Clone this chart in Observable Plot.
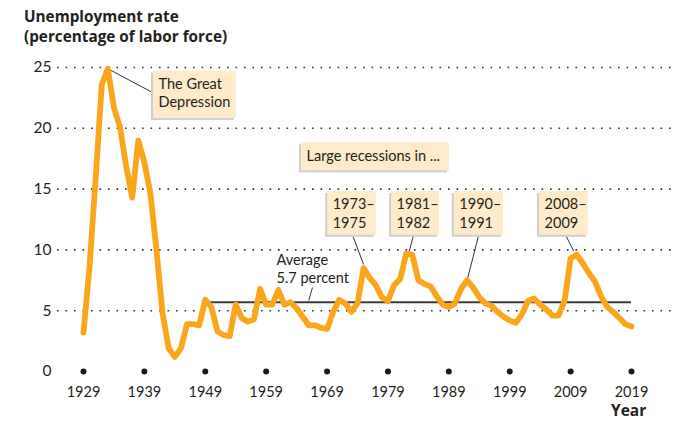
<!DOCTYPE html>
<html>
<head>
<meta charset="utf-8">
<script src="https://cdn.jsdelivr.net/npm/d3@7"></script>
<script src="https://cdn.jsdelivr.net/npm/@observablehq/plot@0.6"></script>
<style>
  body { margin: 0; background: #fff; }
  #chart { position: relative; width: 682px; height: 435px; font-family: Lato, "Open Sans", sans-serif; color: #231f20; }
  #chart svg { position: absolute; left: 0; top: 0; }
  .title { position: absolute; left: 24px; top: 6px; font-family: "Open Sans", sans-serif; font-weight: 700; font-size: 15.3px; line-height: 20px; white-space: nowrap; }
  .xlabel { position: absolute; left: 611px; top: 403px; font-family: "Open Sans", sans-serif; font-weight: 700; font-size: 15.5px; line-height: 15px; }
</style>
</head>
<body>
<div id="chart">
  <div class="title">Unemployment rate<br>(percentage of labor force)</div>
  <div class="xlabel">Year</div>
</div>
<script>
// Annual US unemployment rate, percent of labor force, 1929–2019
const firstYear = 1929;
const rates = [
  3.2, 8.7, 15.9, 23.6, 24.9, 21.7, 20.1, 16.9, 14.3, 19.0,   // 1929–1938
  17.2, 14.6, 9.9, 4.7, 1.9, 1.2, 1.9, 3.9, 3.9, 3.8,         // 1939–1948
  5.9, 5.3, 3.3, 3.0, 2.9, 5.5, 4.4, 4.1, 4.3, 6.8,           // 1949–1958
  5.5, 5.5, 6.7, 5.5, 5.7, 5.2, 4.5, 3.8, 3.8, 3.6,           // 1959–1968
  3.5, 4.9, 5.9, 5.6, 4.9, 5.6, 8.5, 7.7, 7.1, 6.1,           // 1969–1978
  5.8, 7.1, 7.6, 9.7, 9.6, 7.5, 7.2, 7.0, 6.2, 5.5,           // 1979–1988
  5.3, 5.6, 6.8, 7.5, 6.9, 6.1, 5.6, 5.4, 4.9, 4.5,           // 1989–1998
  4.2, 4.0, 4.7, 5.8, 6.0, 5.5, 5.1, 4.6, 4.6, 5.8,           // 1999–2008
  9.3, 9.6, 8.9, 8.1, 7.4, 6.2, 5.3, 4.9, 4.4, 3.9,           // 2009–2018
  3.7                                                         // 2019
];
const series = rates.map((rate, i) => ({ year: firstYear + i, rate }));

const averageRate = 5.7;
const averageSpan = [1949, 2019];

const xTickYears = [1929, 1939, 1949, 1959, 1969, 1979, 1989, 1999, 2009, 2019];
const yTicks = [0, 5, 10, 15, 20, 25];
const gridValues = [5, 10, 15, 20, 25];

// Callout boxes (left/right year, top/bottom rate)
const boxes = [
  { label: "The Great\nDepression", x1: 1940.5, x2: 1954.1, top: 24.7, bottom: 20.8 },
  { label: "Large recessions in ...", x1: 1964.8, x2: 1989.1, top: 18.8, bottom: 16.5 },
  { label: "1973–\n1975", x1: 1969.1, x2: 1977.1, top: 14.8, bottom: 11.2 },
  { label: "1981–\n1982", x1: 1979.6, x2: 1987.5, top: 14.8, bottom: 11.2 },
  { label: "1990–\n1991", x1: 1989.9, x2: 1998.0, top: 14.8, bottom: 11.2 },
  { label: "2008–\n2009", x1: 2003.9, x2: 2011.9, top: 14.8, bottom: 11.2 }
];

// Leader lines from callouts to the points they describe
const leaders = [
  { x1: 1933.0, y1: 24.9, x2: 1940.5, y2: 22.9 },
  { x1: 1973.2, y1: 11.2, x2: 1975.0, y2: 8.8 },
  { x1: 1983.2, y1: 11.2, x2: 1982.5, y2: 9.9 },
  { x1: 1993.9, y1: 11.2, x2: 1992.1, y2: 7.7 },
  { x1: 2008.2, y1: 11.2, x2: 2009.5, y2: 9.9 },
  { x1: 1966.6, y1: 6.9,  x2: 1966.0, y2: 5.85 }
];

const averageNote = [{ year: 1960.7, rate: 8.5, text: "Average\n5.7 percent" }];

const ink = "#231f20";

const chart = Plot.plot({
  width: 682,
  height: 435,
  marginLeft: 57,
  marginRight: 10,
  marginTop: 60,
  marginBottom: 60,
  x: { domain: [1929, 2019], range: [83, 631], axis: null },
  y: { domain: [0, 25], range: [371, 67], axis: null },
  style: { fontFamily: "Lato, 'Open Sans', sans-serif", color: ink, background: "transparent", overflow: "visible" },
  marks: [
    Plot.gridY(gridValues, { stroke: "#333", strokeOpacity: 1, strokeWidth: 1.6, strokeDasharray: "1.6,6.9" }),
    Plot.axisY(yTicks, { tickSize: 0, tickPadding: 6, fontSize: 15.5, label: null }),
    Plot.dot(xTickYears, { x: d => d, y: 0, r: 3, fill: "#1a1a1a", stroke: null }),
    Plot.text(xTickYears, { x: d => d, y: 0, dy: 21, text: d => `${d}`, fontSize: 14.5, fill: ink }),
    Plot.link(leaders, { x1: "x1", y1: "y1", x2: "x2", y2: "y2", stroke: "#333", strokeWidth: 1 }),
    Plot.rect(boxes, { x1: "x1", x2: "x2", y1: "bottom", y2: "top", fill: "#cfcfcf", dx: -2, dy: 2 }),
    Plot.rect(boxes, { x1: "x1", x2: "x2", y1: "bottom", y2: "top", fill: "#fdebc9" }),
    Plot.text(boxes, { x: "x1", y: "top", text: "label", textAnchor: "start", lineAnchor: "top", dx: 5, dy: 5, fontSize: 14.5, lineHeight: 1.25, fill: ink }),
    Plot.text(averageNote, { x: "year", y: "rate", text: "text", textAnchor: "start", lineAnchor: "middle", fontSize: 14.5, lineHeight: 1.25, fill: ink }),
    Plot.ruleY([averageRate], { x1: averageSpan[0], x2: averageSpan[1], stroke: "#3a3a3a", strokeWidth: 2 }),
    Plot.line(series, { x: "year", y: "rate", stroke: "#f9a61c", strokeWidth: 5.8, strokeLinejoin: "round", strokeLinecap: "round" })
  ]
});

document.getElementById("chart").prepend(chart);
</script>
</body>
</html>
